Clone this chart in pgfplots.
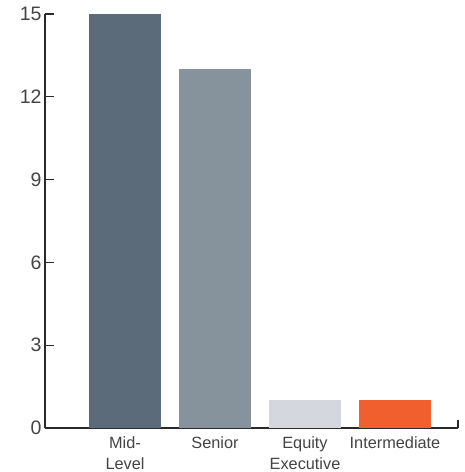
\documentclass[border=0pt]{standalone}
\usepackage{fontspec}
\setmainfont{Liberation Sans}
\usepackage{pgfplots}
\pgfplotsset{compat=1.18}
\definecolor{cA}{HTML}{5B6B79}
\definecolor{cB}{HTML}{86929C}
\definecolor{cC}{HTML}{D4D7DE}
\definecolor{cD}{HTML}{F15F2E}
\definecolor{axisc}{HTML}{2A2A2A}
\definecolor{textc}{HTML}{444444}
\begin{document}
\begin{tikzpicture}
\begin{axis}[name=ax, scale only axis, width=413pt, height=414pt,
  xmin=-0.889, xmax=3.7, ymin=0, ymax=15,
  axis lines=left, axis line style={-, line width=1.4pt, color=axisc},
  ytick={0,3,6,9,12,15}, tick align=inside, major tick length=9pt,
  ytick style={line width=1.4pt, color=axisc},
  xtick={0,1,2,3},
  xticklabels={{Mid-\\Level},Senior,{Equity\\Executive},Intermediate},
  xtick style={draw=none},
  xticklabel style={align=center, font=\fontsize{16.3}{21}\selectfont, text=textc, yshift=4pt},
  yticklabel style={font=\fontsize{19.5}{21}\selectfont, text=textc},
  /pgf/number format/assume math mode=true,
  ybar, bar width=72pt, bar shift=0pt,
  clip=false,
]
\addplot[fill=cA, draw=none] coordinates {(0,15)};
\addplot[fill=cB, draw=none] coordinates {(1,13)};
\addplot[fill=cC, draw=none] coordinates {(2,1)};
\addplot[fill=cD, draw=none] coordinates {(3,1)};
\end{axis}
\draw[line width=1.4pt, color=axisc] (ax.south east) -- ++(0,8pt);
\pgfresetboundingbox
\path (ax.south west) ++(-45pt,-44pt) rectangle ++(464pt,472pt);
\end{tikzpicture}
\end{document}
